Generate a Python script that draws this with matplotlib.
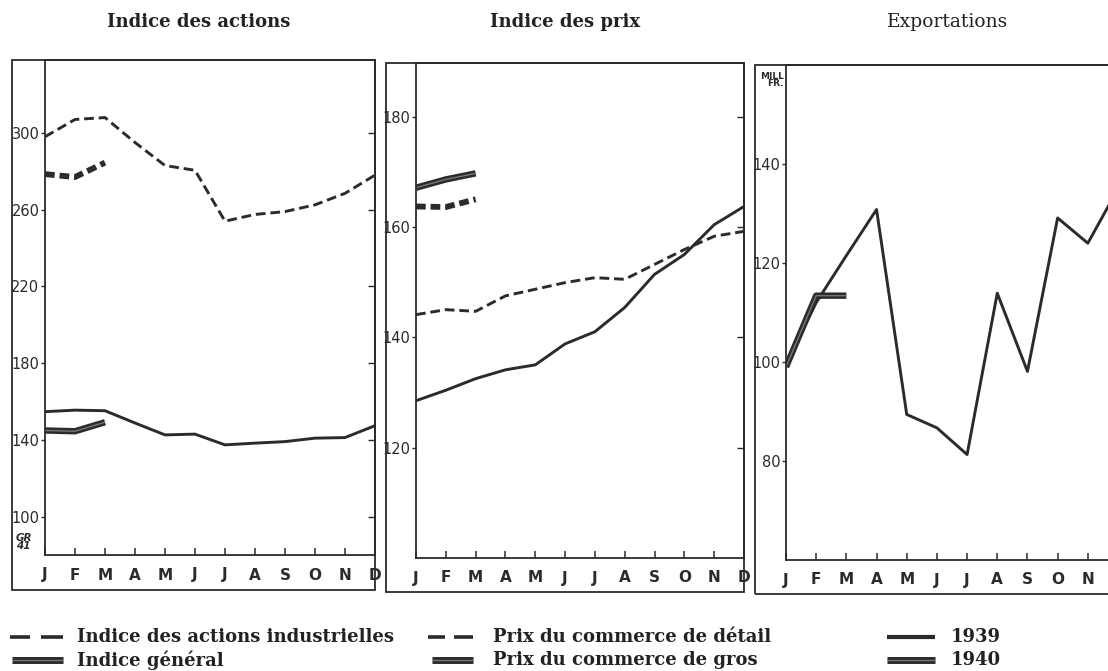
import matplotlib
matplotlib.use("Agg")
import matplotlib.pyplot as plt
from matplotlib.lines import Line2D
from matplotlib.patches import Rectangle

plt.rcParams['lines.scale_dashes'] = False

months = ["J", "F", "M", "A", "M", "J", "J", "A", "S", "O", "N", "D"]

# Panel 1: Indice des actions
actions_ind_1939 = [298, 307, 308, 295, 283, 280.5, 254, 257.5, 259, 262.5, 268.5, 278]
actions_ind_1940 = [278.5, 277, 284.5]
indice_gen_1939 = [154.7, 155.5, 155.2, 148.8, 142.6, 143, 137.4, 138.3, 139.1, 140.9, 141.2, 147.4]
indice_gen_1940 = [144.9, 144.5, 149.2]

# Panel 2: Indice des prix
prix_detail_1939 = [144.1, 145.0, 144.7, 147.5, 148.7, 149.9, 150.8, 150.5, 153.2, 155.9, 158.3, 159.2]
prix_detail_1940 = [163.7, 163.6, 165.0]
prix_gros_1939 = [128.5, 130.4, 132.5, 134.1, 135.0, 138.8, 141.0, 145.4, 151.4, 155.0, 160.4, 163.7]
prix_gros_1940 = [167.1, 168.6, 169.7]

# Panel 3: Exportations (mill. fr.)
export_1939 = [99.5, 112, 121.5, 130.8, 89.4, 86.7, 81.3, 113.9, 98.1, 129.1, 124.0, 135]
export_1940 = [99, 113.4, 113.4]

W, H = 1108, 671
fig = plt.figure(figsize=(W / 100, H / 100), dpi=100)

INK = '#2b2b2b'


def fx(x):
    return x / W


def fy(y):
    return 1 - y / H


def make_ax(left, right, top, bottom, outer_left, outer_bottom):
    ax = fig.add_axes([fx(left), fy(bottom), fx(right - left), (bottom - top) / H])
    for s in ax.spines.values():
        s.set_color(INK)
        s.set_linewidth(1.3)
    ax.set_xlim(0, 11)
    ax.set_xticks(range(12))
    ax.set_xticklabels(months, fontsize=11, fontweight='bold', color=INK,
                       family='DejaVu Sans')
    ax.tick_params(axis='x', direction='in', length=5, width=1.1, pad=9, colors=INK)
    ax.tick_params(axis='y', direction='out', length=3, width=1.0, pad=1,
                   labelsize=10.5, colors=INK, right=False)
    sec = ax.secondary_yaxis('right')
    sec.tick_params(direction='in', length=5, width=1.0, labelright=False, colors=INK)
    sec.spines['right'].set_linewidth(1.3)
    sec.spines['right'].set_color(INK)
    rect = Rectangle((fx(outer_left), fy(outer_bottom)), fx(right - outer_left),
                     (outer_bottom - top) / H, transform=fig.transFigure,
                     fill=False, edgecolor=INK, linewidth=1.3)
    fig.add_artist(rect)
    return ax, sec


def thick(ax, x, y, dashed=False):
    kw = dict(color=INK, solid_capstyle='butt', dash_capstyle='butt')
    if dashed:
        ax.plot(x, y, lw=4.2, dashes=(7, 3.5), **kw)
    else:
        ax.plot(x, y, lw=4.6, **kw)
        ax.plot(x, y, lw=1.0, color='#777777', solid_capstyle='butt')


def thin(ax, x, y, dashed=False):
    kw = dict(color=INK, lw=2.1, solid_capstyle='round', dash_capstyle='butt')
    if dashed:
        ax.plot(x, y, dashes=(7, 3.5), **kw)
    else:
        ax.plot(x, y, **kw)


x12 = list(range(12))
x3 = list(range(3))

# Panel 1
ax1, s1 = make_ax(45, 375, 60, 555, 12, 590)
ax1.set_ylim(80, 338)
ax1.set_yticks([100, 140, 180, 220, 260, 300])
s1.set_yticks([100, 140, 180, 220, 260, 300])
thin(ax1, x12, actions_ind_1939, dashed=True)
thick(ax1, x3, actions_ind_1940, dashed=True)
thin(ax1, x12, indice_gen_1939)
thick(ax1, x3, indice_gen_1940)
fig.text(fx(16), fy(542), "GR\n41", fontsize=7.5, fontstyle='italic', fontweight='bold',
         color=INK, linespacing=0.75, va='center', ha='left')

# Panel 2
ax2, s2 = make_ax(416, 744, 63, 558, 386, 592)
ax2.set_ylim(100, 189.7)
ax2.set_yticks([120, 140, 160, 180])
s2.set_yticks([120, 140, 160, 180])
thin(ax2, x12, prix_detail_1939, dashed=True)
thick(ax2, x3, prix_detail_1940, dashed=True)
thin(ax2, x12, prix_gros_1939)
thick(ax2, x3, prix_gros_1940)

# Panel 3
ax3, s3 = make_ax(786, 1118, 65, 560, 755, 594)
ax3.set_ylim(60, 160)
ax3.set_yticks([80, 100, 120, 140])
s3.set_yticks([80, 100, 120, 140])
thin(ax3, x12, export_1939)
thick(ax3, x3, export_1940)
fig.text(fx(784), fy(80), "MILL\nFR.", fontsize=6.5, fontweight='bold', color=INK,
         linespacing=0.85, va='center', ha='right')

# Titles
tkw = dict(family='DejaVu Serif', color='#222222', va='center', ha='center')
fig.text(fx(199), fy(22), "Indice des actions", fontweight='bold', fontsize=13, **tkw)
fig.text(fx(565), fy(22), "Indice des prix", fontweight='bold', fontsize=13, **tkw)
fig.text(fx(948), fy(22), "Exportations", fontweight='normal', fontsize=13.5, **tkw)

# Legend
lkw = dict(family='DejaVu Serif', fontsize=13, fontweight='bold', color='#222222',
           va='center', ha='left')


def seg(x0, x1, y, lw, color=INK):
    fig.add_artist(Line2D([fx(x0), fx(x1)], [fy(y), fy(y)], transform=fig.transFigure,
                          color=color, lw=lw, solid_capstyle='butt'))


def sample(x0, x1, y, dashed=False, heavy=False):
    if dashed:
        span = x1 - x0
        seg(x0, x0 + span * 0.38, y, 2.6)
        seg(x0 + span * 0.58, x1, y, 2.6)
    elif heavy:
        seg(x0, x1, y, 5)
        seg(x0, x1, y, 1.0, '#777777')
    else:
        seg(x0, x1, y, 3)


r1, r2 = 637, 660
sample(10, 63, r1, dashed=True)
fig.text(fx(77), fy(r1), "Indice des actions industrielles", **lkw)
sample(12, 63, r2, heavy=True)
fig.text(fx(77), fy(r2), "Indice général", **lkw)

sample(428, 473, r1, dashed=True)
fig.text(fx(493), fy(r1), "Prix du commerce de détail", **lkw)
sample(432, 473, r2, heavy=True)
fig.text(fx(493), fy(r2), "Prix du commerce de gros", **lkw)

sample(887, 935, r1)
fig.text(fx(951), fy(r1), "1939", **lkw)
sample(887, 935, r2, heavy=True)
fig.text(fx(951), fy(r2), "1940", **lkw)

fig.savefig("out.png", dpi=100)
